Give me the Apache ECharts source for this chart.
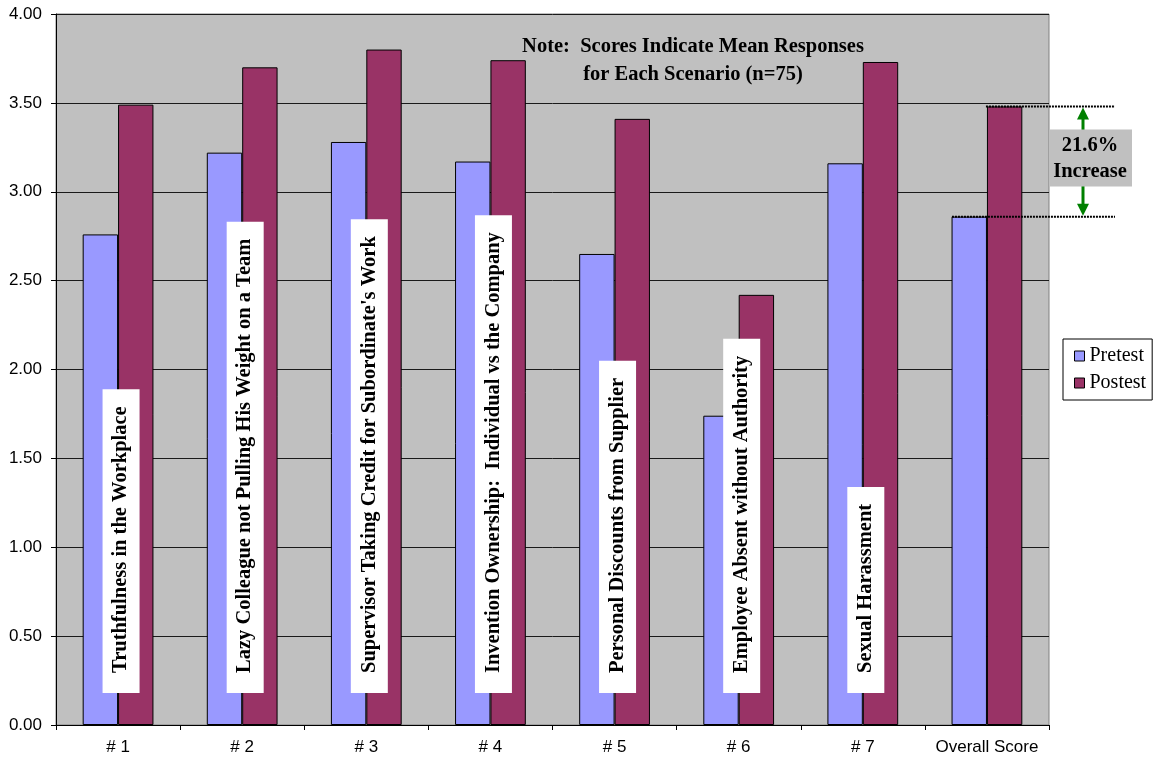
<!DOCTYPE html>
<html>
<head>
<meta charset="utf-8">
<script src="https://cdn.jsdelivr.net/npm/echarts@6/dist/echarts.min.js"></script>
<style>
  html, body { margin: 0; padding: 0; background: #fff; }
  #chart { width: 1153px; height: 761px; }
</style>
</head>
<body>
<div id="chart"></div>
<script>
const categories = ['# 1', '# 2', '# 3', '# 4', '# 5', '# 6', '# 7', 'Overall Score'];
const pretest = [2.76, 3.22, 3.28, 3.17, 2.65, 1.74, 3.16, 2.86];
const postest = [3.49, 3.70, 3.80, 3.74, 3.41, 2.42, 3.73, 3.48];
const scenarios = [
  'Truthfulness in the Workplace',
  'Lazy Colleague not Pulling His Weight on a Team',
  "Supervisor Taking Credit for Subordinate's Work",
  'Invention Ownership:  Individual vs the Company',
  'Personal Discounts from Supplier',
  'Employee Absent without Authority',
  'Sexual Harassment'
];
const noteLines = ['Note:  Scores Indicate Mean Responses', 'for Each Scenario (n=75)'];
const increaseText = ['21.6%', 'Increase'];

const serif = '"Liberation Serif", "Times New Roman", serif';
const sans = '"Liberation Sans", Arial, sans-serif';

const chart = echarts.init(document.getElementById('chart'));

const option = {
  animation: false,
  grid: {
    left: 56, right: 104, top: 14, bottom: 36,
    show: true, backgroundColor: '#C0C0C0', borderColor: '#808080', borderWidth: 1
  },
  legend: {
    data: ['Pretest', 'Postest'],
    orient: 'vertical',
    left: 1063, top: 339,
    padding: [7, 6, 7, 11],
    itemGap: 7,
    itemWidth: 10, itemHeight: 10,
    icon: 'rect',
    borderColor: '#000', borderWidth: 1, backgroundColor: '#fff',
    textStyle: { fontFamily: serif, fontSize: 20, color: '#000' },
    itemStyle: { borderColor: '#000', borderWidth: 1 }
  },
  xAxis: {
    type: 'category',
    data: categories,
    axisLine: { lineStyle: { color: '#000', width: 1 } },
    axisTick: { show: true, interval: 0, length: 5, lineStyle: { color: '#000' } },
    axisLabel: { interval: 0, fontFamily: sans, fontSize: 17, color: '#000', margin: 14 }
  },
  yAxis: {
    type: 'value',
    min: 0, max: 4, interval: 0.5,
    axisLine: { show: true, lineStyle: { color: '#000', width: 1 } },
    axisTick: { show: true, length: 5, lineStyle: { color: '#000' } },
    axisLabel: { fontFamily: sans, fontSize: 17, color: '#000', margin: 14,
      formatter: (v) => v.toFixed(2) },
    splitLine: { lineStyle: { color: '#1a1a1a', width: 1 } }
  },
  series: [
    {
      name: 'Pretest', type: 'bar', data: pretest,
      barGap: '0%', barCategoryGap: '43%',
      itemStyle: { color: '#9999FF', borderColor: '#000', borderWidth: 1 }
    },
    {
      name: 'Postest', type: 'bar', data: postest,
      barGap: '0%', barCategoryGap: '43%',
      itemStyle: { color: '#993366', borderColor: '#000', borderWidth: 1 }
    },
    {
      // white boxes with the scenario name, standing on each pair of bars
      type: 'custom',
      name: 'scenario',
      coordinateSystem: 'cartesian2d',
      clip: false,
      z: 5,
      data: scenarios.map((s, i) => [i, s]),
      encode: { x: 0 },
      renderItem: (params, api) => {
        const p = api.coord([api.value(0), 0.18]);
        return {
          type: 'text',
          x: p[0] + 3,
          y: p[1],
          rotation: Math.PI / 2,
          style: {
            text: scenarios[params.dataIndex],
            font: 'bold 20.5px ' + serif,
            fill: '#000',
            backgroundColor: '#fff',
            padding: [8, 17, 8, 20],
            align: 'left',
            verticalAlign: 'middle'
          }
        };
      }
    }
  ]
};

chart.setOption(option);

// annotation for the overall score increase
const last = categories.length - 1;
const xc = chart.convertToPixel({ xAxisIndex: 0 }, categories[last]);
const yTop = chart.convertToPixel({ yAxisIndex: 0 }, postest[last]);
const yBot = chart.convertToPixel({ yAxisIndex: 0 }, pretest[last]);
const xEnd = 1115;
const xArrow = 1083;
const midY = (yTop + yBot) / 2;

chart.setOption({
  graphic: [
    {
      type: 'text', x: 693, y: 33, z: 10,
      style: { text: noteLines.join('\n'), font: 'bold 20.5px ' + serif, fill: '#000',
        align: 'center', verticalAlign: 'top', lineHeight: 28 }
    },
    {
      type: 'line', shape: { x1: xc - 1, y1: yTop, x2: xEnd, y2: yTop },
      style: { stroke: '#000', lineWidth: 2, lineDash: [2, 1] }, z: 10
    },
    {
      type: 'line', shape: { x1: xc - 35, y1: yBot, x2: xEnd, y2: yBot },
      style: { stroke: '#000', lineWidth: 2, lineDash: [2, 1] }, z: 10
    },
    {
      type: 'line', shape: { x1: xArrow, y1: yTop + 10, x2: xArrow, y2: yBot - 10 },
      style: { stroke: '#008000', lineWidth: 3 }, z: 10
    },
    {
      type: 'polygon', shape: { points: [[xArrow, yTop + 1], [xArrow - 6, yTop + 13], [xArrow + 6, yTop + 13]] },
      style: { fill: '#008000' }, z: 10
    },
    {
      type: 'polygon', shape: { points: [[xArrow, yBot - 1], [xArrow - 6, yBot - 13], [xArrow + 6, yBot - 13]] },
      style: { fill: '#008000' }, z: 10
    },
    {
      type: 'rect', shape: { x: 1049, y: midY - 32, width: 83, height: 57 },
      style: { fill: '#C0C0C0' }, z: 11
    },
    {
      type: 'text', x: 1090, y: midY - 3, z: 12,
      style: { text: increaseText.join('\n'), font: 'bold 20.5px ' + serif, fill: '#000',
        align: 'center', verticalAlign: 'middle', lineHeight: 26 }
    }
  ]
});
</script>
</body>
</html>
